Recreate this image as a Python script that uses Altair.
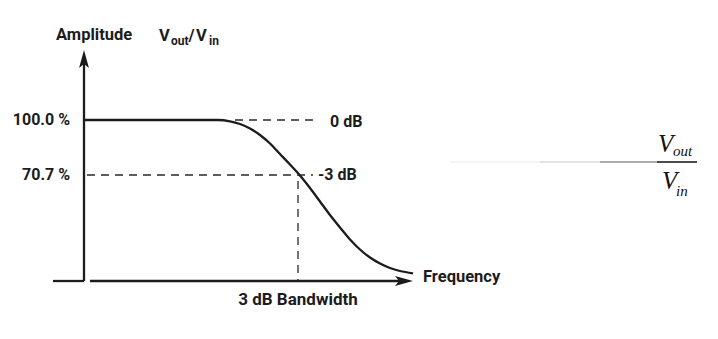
import altair as alt
import pandas as pd

# ---- data (normalized frequency f, amplitude in % of Vin) ----
curve_freq = [0.0, 0.6262, 0.6822, 0.7290, 0.7757, 0.8224, 0.8692, 0.9159, 0.9626, 1.0093,
              1.0561, 1.1028, 1.1495, 1.1963, 1.2430, 1.2897, 1.3364, 1.3832, 1.4299, 1.4766, 1.5374]
curve_amp = [100.0, 100.0, 99.31, 97.87, 95.47, 92.01, 87.48, 81.89, 76.29, 70.43,
             63.77, 56.58, 49.39, 42.73, 36.34, 31.01, 26.75, 23.55, 21.16, 19.56, 18.33]

level_labels = ["100.0 %", "70.7 %"]
level_values = [100.0, 70.7]
db_labels = ["0 dB", "-3 dB"]
cutoff_freq = 1.0
axis_amp = 14.23

FONT = "Roboto"
SERIF = "Liberation Serif"
INK = "#1c1c1c"

XS = alt.Scale(domain=[-84 / 214, 634 / 214], nice=False, zero=False)
YS = alt.Scale(domain=[-16.667, 163.927], nice=False, zero=False)


def X(field="f"):
    return alt.X(f"{field}:Q", scale=XS, axis=None)


def Y(field="v"):
    return alt.Y(f"{field}:Q", scale=YS, axis=None)


# curve
curve_df = pd.DataFrame({"f": curve_freq, "v": curve_amp})
curve = alt.Chart(curve_df).mark_line(
    color=INK, strokeWidth=2.3, interpolate="monotone"
).encode(x=X(), y=Y())

# axes (solid rules)
axes_df = pd.DataFrame({
    "f": [0.0, -0.1449, 0.028],
    "f2": [0.0, 0.0, 1.5],
    "v": [axis_amp, axis_amp, axis_amp],
    "v2": [130.9, axis_amp, axis_amp],
})
axes = alt.Chart(axes_df).mark_rule(color=INK, strokeWidth=2.3).encode(
    x=X(), x2="f2:Q", y=Y(), y2="v2:Q"
)

ARROW = "M0,-1 L0.55,1 L0,0.55 L-0.55,1 Z"
arrows_df = pd.DataFrame({"f": [0.0, 1.4953], "v": [132.5, axis_amp], "a": [0, 90]})
arrows = alt.Chart(arrows_df).mark_point(
    shape=ARROW, filled=True, color=INK, size=324, opacity=1, strokeWidth=0
).encode(x=X(), y=Y(), angle=alt.Angle("a:Q", scale=None))

# dashed guides
dash_df = pd.DataFrame({
    "f": [0.7056, 0.014, cutoff_freq],
    "f2": [1.0935, 1.070, cutoff_freq],
    "v": [level_values[0], level_values[1], 67.5],
    "v2": [level_values[0], level_values[1], axis_amp],
})
dashes = alt.Chart(dash_df).mark_rule(
    color="#2a2a2a", strokeWidth=1.3, strokeDash=[8, 6]
).encode(x=X(), x2="f2:Q", y=Y(), y2="v2:Q")

# level labels on left
lvl_df = pd.DataFrame({"f": [-0.0654, -0.0654], "v": level_values, "t": level_labels})
lvl = alt.Chart(lvl_df).mark_text(
    align="right", baseline="middle", font=FONT, fontWeight="bold", fontSize=16, color=INK
).encode(x=X(), y=Y(), text="t:N")

# dB labels
db_df = pd.DataFrame({"f": [1.1495, 1.0935], "v": [99.0, 70.7], "t": db_labels})
dbt = alt.Chart(db_df).mark_text(
    align="left", baseline="middle", font=FONT, fontWeight="bold", fontSize=16, color=INK
).encode(x=X(), y=Y(), text="t:N")

# other labels
misc_df = pd.DataFrame({
    "f": [-0.1308, 1.5841],
    "v": [145.28, 16.36],
    "t": ["Amplitude", "Frequency"],
})
misc = alt.Chart(misc_df).mark_text(
    align="left", baseline="middle", font=FONT, fontWeight="bold", fontSize=16.5, color=INK
).encode(x=X(), y=Y(), text="t:N")

bw_df = pd.DataFrame({"f": [cutoff_freq], "v": [4.11], "t": ["3 dB Bandwidth"]})
bw = alt.Chart(bw_df).mark_text(
    align="center", baseline="middle", font=FONT, fontWeight="bold", fontSize=17, color=INK
).encode(x=X(), y=Y(), text="t:N")

# title Vout/Vin with subscripts
tmain_df = pd.DataFrame({"f": [0.3505, 0.4883, 0.5234], "v": [142.09] * 3, "t": ["V", "/", "V"]})
tmain = alt.Chart(tmain_df).mark_text(
    align="left", baseline="alphabetic", font=FONT, fontWeight="bold", fontSize=16.5, color=INK
).encode(x=X(), y=Y(), text="t:N")
tsub_df = pd.DataFrame({"f": [0.4065, 0.5841], "v": [139.95] * 2, "t": ["out", "in"]})
tsub = alt.Chart(tsub_df).mark_text(
    align="left", baseline="alphabetic", font=FONT, fontWeight="bold", fontSize=12, color=INK
).encode(x=X(), y=Y(), text="t:N")

# right-hand fraction Vout / Vin
frac_line_df = pd.DataFrame({
    "f": [1.7103, 2.1308, 2.4112, 2.6776],
    "f2": [2.1308, 2.4112, 2.6776, 2.8645],
    "v": [77.63] * 4,
    "c": ["#f2f2f2", "#d9d9d9", "#8f8f8f", "#111111"],
})
frac_line = alt.Chart(frac_line_df).mark_rule(strokeWidth=1.4).encode(
    x=X(), x2="f2:Q", y=Y(), color=alt.Color("c:N", scale=None)
)
fbig_df = pd.DataFrame({"f": [2.6822, 2.7009], "v": [82.95, 63.24], "t": ["V", "V"]})
fbig = alt.Chart(fbig_df).mark_text(
    align="left", baseline="alphabetic", font=SERIF, fontStyle="italic", fontSize=25, color="#111111"
).encode(x=X(), y=Y(), text="t:N")
fsub_df = pd.DataFrame({"f": [2.7523, 2.7664], "v": [80.82, 59.51], "t": ["out", "in"]})
fsub = alt.Chart(fsub_df).mark_text(
    align="left", baseline="alphabetic", font=SERIF, fontStyle="italic", fontSize=15, color="#111111"
).encode(x=X(), y=Y(), text="t:N")

chart = alt.layer(
    frac_line, dashes, axes, curve, arrows, lvl, dbt, misc, bw, tmain, tsub, fbig, fsub
).properties(
    width=718, height=339, padding=0, autosize=alt.AutoSizeParams(type="none"),
    background="white",
).configure_view(stroke=None)

chart.save("out.html", embed_options={"renderer": "svg", "actions": False})
